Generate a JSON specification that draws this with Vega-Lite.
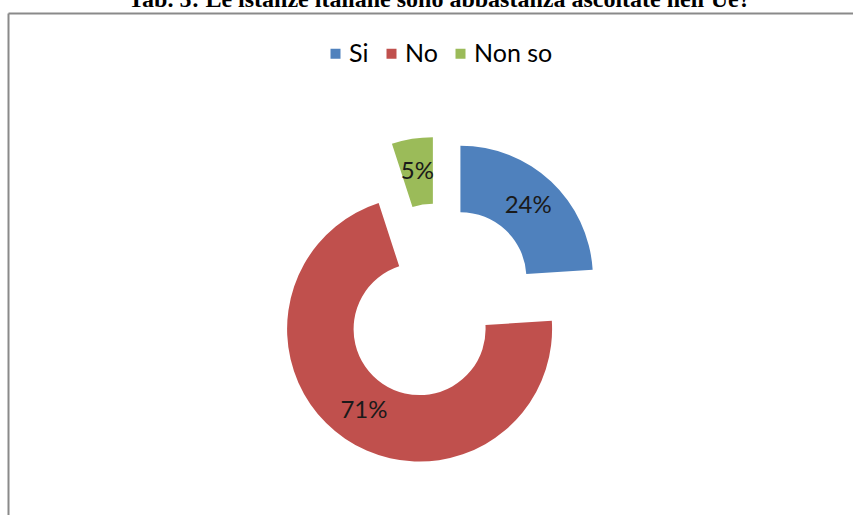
{
  "$schema": "https://vega.github.io/schema/vega-lite/v6.json",
  "width": 845,
  "height": 502,
  "autosize": {"type": "none"},
  "padding": {"left": 8, "top": 13, "right": 0, "bottom": 0},
  "background": "white",
  "title": {
    "text": "Tab. 5: Le istanze italiane sono abbastanza ascoltate nell'Ue?",
    "font": "Liberation Serif",
    "fontSize": 24,
    "fontWeight": "bold",
    "color": "#000000",
    "anchor": "middle",
    "frame": "group",
    "baseline": "alphabetic",
    "offset": -18,
    "dx": 9
  },
  "config": {
    "view": {"stroke": null},
    "axis": {
      "domain": true,
      "domainColor": "#8a8a8a",
      "domainWidth": 2,
      "ticks": false,
      "labels": false,
      "grid": false,
      "title": null
    }
  },
  "data": {
    "values": [
      {"cat": "Si", "value": 0.24, "ord": 1},
      {"cat": "No", "value": 0.71, "ord": 2},
      {"cat": "Non so", "value": 0.05, "ord": 3}
    ]
  },
  "transform": [
    {"stack": "value", "groupby": [], "sort": [{"field": "ord", "order": "ascending"}], "as": ["v0", "v1"]}
  ],
  "layer": [
    {
      "mark": {"type": "point", "opacity": 0},
      "encoding": {
        "x": {"field": "value", "type": "quantitative", "axis": {"orient": "top"}},
        "y": {"field": "value", "type": "quantitative", "axis": {"orient": "left"}}
      }
    },
    {
      "mark": {
        "type": "arc",
        "outerRadius": 132.5,
        "innerRadius": 66,
        "xOffset": {"expr": "7.5 + 32.75*sin(PI*(datum.v0+datum.v1))"},
        "yOffset": {"expr": "38 - 32.75*cos(PI*(datum.v0+datum.v1))"}
      },
      "encoding": {
        "theta": {"field": "v0", "type": "quantitative", "scale": {"domain": [0, 1]}},
        "theta2": {"field": "v1"},
        "color": {
          "field": "cat",
          "type": "nominal",
          "scale": {"domain": ["Si", "No", "Non so"], "range": ["#4F81BD", "#C0504D", "#9BBB59"]},
          "legend": {
            "orient": "none",
            "legendX": 315,
            "legendY": 28,
            "direction": "horizontal",
            "title": null,
            "symbolType": "square",
            "symbolSize": 100,
            "symbolStrokeWidth": 0,
            "labelFont": "Lato",
            "labelFontSize": 25,
            "labelColor": "#000000",
            "labelOffset": 1,
            "columnPadding": 10
          }
        }
      }
    },
    {
      "mark": {
        "type": "text",
        "radius": 99,
        "theta": {"expr": "PI*(datum.v0+datum.v1)"},
        "xOffset": {"expr": "7.5 + 32.75*sin(PI*(datum.v0+datum.v1))"},
        "yOffset": {"expr": "38 - 32.75*cos(PI*(datum.v0+datum.v1))"},
        "font": "Lato",
        "fontSize": 24,
        "fill": "#1a1a1a",
        "align": "center",
        "baseline": "middle"
      },
      "encoding": {
        "text": {"field": "value", "type": "quantitative", "format": ".0%"}
      }
    }
  ]
}
